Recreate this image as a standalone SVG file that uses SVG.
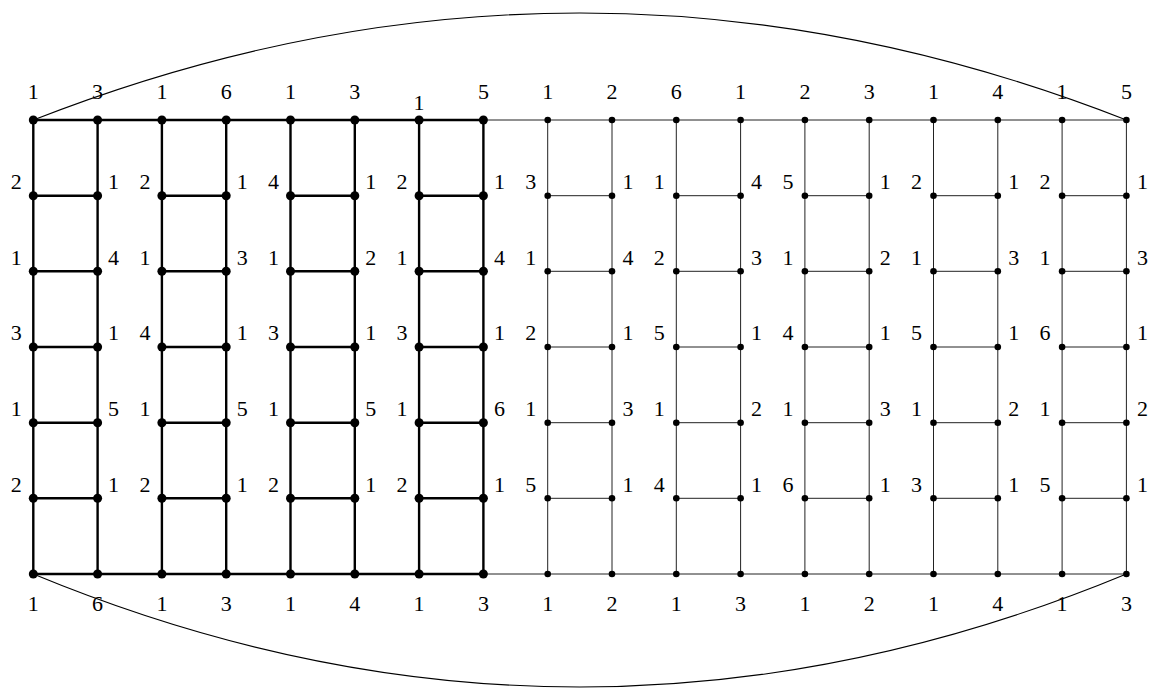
<svg xmlns="http://www.w3.org/2000/svg" width="1155" height="688" viewBox="0 0 1155 688">
<style>
.T{stroke:#000;stroke-width:2.4;fill:none;stroke-linecap:round}
.h{stroke:#222;stroke-width:1;fill:none}
.c{stroke:#000;stroke-width:1.1;fill:none}
.D{fill:#000}
.d{fill:#000}
.L text{font-family:'Liberation Serif','Times New Roman',serif;font-size:22px;fill:#000;text-anchor:middle}
</style>
<rect width="1155" height="688" fill="#fff"/>
<g id="connectors">
<path class="c" d="M33.3,120 Q579.85,-94 1126.4,120"/>
<path class="c" d="M33.3,574 Q579.85,800 1126.4,574"/>
<path class="T" d="M33.3,120H483.4M33.3,574H483.4M33.3,120V574M97.6,120V574M161.9,120V574M226.2,120V574M290.5,120V574M354.8,120V574M419.1,120V574M483.4,120V574"/>
<path class="T" d="M33.3,195.7H97.6M33.3,271.3H97.6M33.3,347H97.6M33.3,422.7H97.6M33.3,498.3H97.6M161.9,195.7H226.2M161.9,271.3H226.2M161.9,347H226.2M161.9,422.7H226.2M161.9,498.3H226.2M290.5,195.7H354.8M290.5,271.3H354.8M290.5,347H354.8M290.5,422.7H354.8M290.5,498.3H354.8M419.1,195.7H483.4M419.1,271.3H483.4M419.1,347H483.4M419.1,422.7H483.4M419.1,498.3H483.4"/>
<path class="h" d="M483.4,120H1126.4M483.4,574H1126.4M547.7,120V574M612,120V574M676.3,120V574M740.6,120V574M804.9,120V574M869.2,120V574M933.5,120V574M997.8,120V574M1062.1,120V574M1126.4,120V574"/>
<path class="h" d="M547.7,195.7H612M547.7,271.3H612M547.7,347H612M547.7,422.7H612M547.7,498.3H612M676.3,195.7H740.6M676.3,271.3H740.6M676.3,347H740.6M676.3,422.7H740.6M676.3,498.3H740.6M804.9,195.7H869.2M804.9,271.3H869.2M804.9,347H869.2M804.9,422.7H869.2M804.9,498.3H869.2M933.5,195.7H997.8M933.5,271.3H997.8M933.5,347H997.8M933.5,422.7H997.8M933.5,498.3H997.8M1062.1,195.7H1126.4M1062.1,271.3H1126.4M1062.1,347H1126.4M1062.1,422.7H1126.4M1062.1,498.3H1126.4"/>
</g>
<g class="L" font-family="Liberation Serif, serif" font-size="22" text-anchor="middle">
<!-- column 0 -->
<g id="v0-0"><circle class="D" cx="33.3" cy="120" r="4.5"/><text x="33.3" y="99">1</text></g>
<g id="v0-1"><circle class="D" cx="33.3" cy="195.7" r="4.5"/><text x="16.3" y="189">2</text></g>
<g id="v0-2"><circle class="D" cx="33.3" cy="271.3" r="4.5"/><text x="16.3" y="264.5">1</text></g>
<g id="v0-3"><circle class="D" cx="33.3" cy="347" r="4.5"/><text x="16.3" y="340">3</text></g>
<g id="v0-4"><circle class="D" cx="33.3" cy="422.7" r="4.5"/><text x="16.3" y="416">1</text></g>
<g id="v0-5"><circle class="D" cx="33.3" cy="498.3" r="4.5"/><text x="16.3" y="491.5">2</text></g>
<g id="v0-6"><circle class="D" cx="33.3" cy="574" r="4.5"/><text x="33.3" y="611">1</text></g>
<!-- column 1 -->
<g id="v1-0"><circle class="D" cx="97.6" cy="120" r="4.5"/><text x="97.6" y="99">3</text></g>
<g id="v1-1"><circle class="D" cx="97.6" cy="195.7" r="4.5"/><text x="113.6" y="189">1</text></g>
<g id="v1-2"><circle class="D" cx="97.6" cy="271.3" r="4.5"/><text x="113.6" y="264.5">4</text></g>
<g id="v1-3"><circle class="D" cx="97.6" cy="347" r="4.5"/><text x="113.6" y="340">1</text></g>
<g id="v1-4"><circle class="D" cx="97.6" cy="422.7" r="4.5"/><text x="113.6" y="416">5</text></g>
<g id="v1-5"><circle class="D" cx="97.6" cy="498.3" r="4.5"/><text x="113.6" y="491.5">1</text></g>
<g id="v1-6"><circle class="D" cx="97.6" cy="574" r="4.5"/><text x="97.6" y="611">6</text></g>
<!-- column 2 -->
<g id="v2-0"><circle class="D" cx="161.9" cy="120" r="4.5"/><text x="161.9" y="99">1</text></g>
<g id="v2-1"><circle class="D" cx="161.9" cy="195.7" r="4.5"/><text x="144.9" y="189">2</text></g>
<g id="v2-2"><circle class="D" cx="161.9" cy="271.3" r="4.5"/><text x="144.9" y="264.5">1</text></g>
<g id="v2-3"><circle class="D" cx="161.9" cy="347" r="4.5"/><text x="144.9" y="340">4</text></g>
<g id="v2-4"><circle class="D" cx="161.9" cy="422.7" r="4.5"/><text x="144.9" y="416">1</text></g>
<g id="v2-5"><circle class="D" cx="161.9" cy="498.3" r="4.5"/><text x="144.9" y="491.5">2</text></g>
<g id="v2-6"><circle class="D" cx="161.9" cy="574" r="4.5"/><text x="161.9" y="611">1</text></g>
<!-- column 3 -->
<g id="v3-0"><circle class="D" cx="226.2" cy="120" r="4.5"/><text x="226.2" y="99">6</text></g>
<g id="v3-1"><circle class="D" cx="226.2" cy="195.7" r="4.5"/><text x="242.2" y="189">1</text></g>
<g id="v3-2"><circle class="D" cx="226.2" cy="271.3" r="4.5"/><text x="242.2" y="264.5">3</text></g>
<g id="v3-3"><circle class="D" cx="226.2" cy="347" r="4.5"/><text x="242.2" y="340">1</text></g>
<g id="v3-4"><circle class="D" cx="226.2" cy="422.7" r="4.5"/><text x="242.2" y="416">5</text></g>
<g id="v3-5"><circle class="D" cx="226.2" cy="498.3" r="4.5"/><text x="242.2" y="491.5">1</text></g>
<g id="v3-6"><circle class="D" cx="226.2" cy="574" r="4.5"/><text x="226.2" y="611">3</text></g>
<!-- column 4 -->
<g id="v4-0"><circle class="D" cx="290.5" cy="120" r="4.5"/><text x="290.5" y="99">1</text></g>
<g id="v4-1"><circle class="D" cx="290.5" cy="195.7" r="4.5"/><text x="273.5" y="189">4</text></g>
<g id="v4-2"><circle class="D" cx="290.5" cy="271.3" r="4.5"/><text x="273.5" y="264.5">1</text></g>
<g id="v4-3"><circle class="D" cx="290.5" cy="347" r="4.5"/><text x="273.5" y="340">3</text></g>
<g id="v4-4"><circle class="D" cx="290.5" cy="422.7" r="4.5"/><text x="273.5" y="416">1</text></g>
<g id="v4-5"><circle class="D" cx="290.5" cy="498.3" r="4.5"/><text x="273.5" y="491.5">2</text></g>
<g id="v4-6"><circle class="D" cx="290.5" cy="574" r="4.5"/><text x="290.5" y="611">1</text></g>
<!-- column 5 -->
<g id="v5-0"><circle class="D" cx="354.8" cy="120" r="4.5"/><text x="354.8" y="99">3</text></g>
<g id="v5-1"><circle class="D" cx="354.8" cy="195.7" r="4.5"/><text x="370.8" y="189">1</text></g>
<g id="v5-2"><circle class="D" cx="354.8" cy="271.3" r="4.5"/><text x="370.8" y="264.5">2</text></g>
<g id="v5-3"><circle class="D" cx="354.8" cy="347" r="4.5"/><text x="370.8" y="340">1</text></g>
<g id="v5-4"><circle class="D" cx="354.8" cy="422.7" r="4.5"/><text x="370.8" y="416">5</text></g>
<g id="v5-5"><circle class="D" cx="354.8" cy="498.3" r="4.5"/><text x="370.8" y="491.5">1</text></g>
<g id="v5-6"><circle class="D" cx="354.8" cy="574" r="4.5"/><text x="354.8" y="611">4</text></g>
<!-- column 6 -->
<g id="v6-0"><circle class="D" cx="419.1" cy="120" r="4.5"/><text x="419.1" y="110">1</text></g>
<g id="v6-1"><circle class="D" cx="419.1" cy="195.7" r="4.5"/><text x="402.1" y="189">2</text></g>
<g id="v6-2"><circle class="D" cx="419.1" cy="271.3" r="4.5"/><text x="402.1" y="264.5">1</text></g>
<g id="v6-3"><circle class="D" cx="419.1" cy="347" r="4.5"/><text x="402.1" y="340">3</text></g>
<g id="v6-4"><circle class="D" cx="419.1" cy="422.7" r="4.5"/><text x="402.1" y="416">1</text></g>
<g id="v6-5"><circle class="D" cx="419.1" cy="498.3" r="4.5"/><text x="402.1" y="491.5">2</text></g>
<g id="v6-6"><circle class="D" cx="419.1" cy="574" r="4.5"/><text x="419.1" y="611">1</text></g>
<!-- column 7 -->
<g id="v7-0"><circle class="D" cx="483.4" cy="120" r="4.5"/><text x="483.4" y="99">5</text></g>
<g id="v7-1"><circle class="D" cx="483.4" cy="195.7" r="4.5"/><text x="499.4" y="189">1</text></g>
<g id="v7-2"><circle class="D" cx="483.4" cy="271.3" r="4.5"/><text x="499.4" y="264.5">4</text></g>
<g id="v7-3"><circle class="D" cx="483.4" cy="347" r="4.5"/><text x="499.4" y="340">1</text></g>
<g id="v7-4"><circle class="D" cx="483.4" cy="422.7" r="4.5"/><text x="499.4" y="416">6</text></g>
<g id="v7-5"><circle class="D" cx="483.4" cy="498.3" r="4.5"/><text x="499.4" y="491.5">1</text></g>
<g id="v7-6"><circle class="D" cx="483.4" cy="574" r="4.5"/><text x="483.4" y="611">3</text></g>
<!-- column 8 -->
<g id="v8-0"><circle class="d" cx="547.7" cy="120" r="3.3"/><text x="547.7" y="99">1</text></g>
<g id="v8-1"><circle class="d" cx="547.7" cy="195.7" r="3.3"/><text x="530.7" y="189">3</text></g>
<g id="v8-2"><circle class="d" cx="547.7" cy="271.3" r="3.3"/><text x="530.7" y="264.5">1</text></g>
<g id="v8-3"><circle class="d" cx="547.7" cy="347" r="3.3"/><text x="530.7" y="340">2</text></g>
<g id="v8-4"><circle class="d" cx="547.7" cy="422.7" r="3.3"/><text x="530.7" y="416">1</text></g>
<g id="v8-5"><circle class="d" cx="547.7" cy="498.3" r="3.3"/><text x="530.7" y="491.5">5</text></g>
<g id="v8-6"><circle class="d" cx="547.7" cy="574" r="3.3"/><text x="547.7" y="611">1</text></g>
<!-- column 9 -->
<g id="v9-0"><circle class="d" cx="612" cy="120" r="3.3"/><text x="612" y="99">2</text></g>
<g id="v9-1"><circle class="d" cx="612" cy="195.7" r="3.3"/><text x="628" y="189">1</text></g>
<g id="v9-2"><circle class="d" cx="612" cy="271.3" r="3.3"/><text x="628" y="264.5">4</text></g>
<g id="v9-3"><circle class="d" cx="612" cy="347" r="3.3"/><text x="628" y="340">1</text></g>
<g id="v9-4"><circle class="d" cx="612" cy="422.7" r="3.3"/><text x="628" y="416">3</text></g>
<g id="v9-5"><circle class="d" cx="612" cy="498.3" r="3.3"/><text x="628" y="491.5">1</text></g>
<g id="v9-6"><circle class="d" cx="612" cy="574" r="3.3"/><text x="612" y="611">2</text></g>
<!-- column 10 -->
<g id="v10-0"><circle class="d" cx="676.3" cy="120" r="3.3"/><text x="676.3" y="99">6</text></g>
<g id="v10-1"><circle class="d" cx="676.3" cy="195.7" r="3.3"/><text x="659.3" y="189">1</text></g>
<g id="v10-2"><circle class="d" cx="676.3" cy="271.3" r="3.3"/><text x="659.3" y="264.5">2</text></g>
<g id="v10-3"><circle class="d" cx="676.3" cy="347" r="3.3"/><text x="659.3" y="340">5</text></g>
<g id="v10-4"><circle class="d" cx="676.3" cy="422.7" r="3.3"/><text x="659.3" y="416">1</text></g>
<g id="v10-5"><circle class="d" cx="676.3" cy="498.3" r="3.3"/><text x="659.3" y="491.5">4</text></g>
<g id="v10-6"><circle class="d" cx="676.3" cy="574" r="3.3"/><text x="676.3" y="611">1</text></g>
<!-- column 11 -->
<g id="v11-0"><circle class="d" cx="740.6" cy="120" r="3.3"/><text x="740.6" y="99">1</text></g>
<g id="v11-1"><circle class="d" cx="740.6" cy="195.7" r="3.3"/><text x="756.6" y="189">4</text></g>
<g id="v11-2"><circle class="d" cx="740.6" cy="271.3" r="3.3"/><text x="756.6" y="264.5">3</text></g>
<g id="v11-3"><circle class="d" cx="740.6" cy="347" r="3.3"/><text x="756.6" y="340">1</text></g>
<g id="v11-4"><circle class="d" cx="740.6" cy="422.7" r="3.3"/><text x="756.6" y="416">2</text></g>
<g id="v11-5"><circle class="d" cx="740.6" cy="498.3" r="3.3"/><text x="756.6" y="491.5">1</text></g>
<g id="v11-6"><circle class="d" cx="740.6" cy="574" r="3.3"/><text x="740.6" y="611">3</text></g>
<!-- column 12 -->
<g id="v12-0"><circle class="d" cx="804.9" cy="120" r="3.3"/><text x="804.9" y="99">2</text></g>
<g id="v12-1"><circle class="d" cx="804.9" cy="195.7" r="3.3"/><text x="787.9" y="189">5</text></g>
<g id="v12-2"><circle class="d" cx="804.9" cy="271.3" r="3.3"/><text x="787.9" y="264.5">1</text></g>
<g id="v12-3"><circle class="d" cx="804.9" cy="347" r="3.3"/><text x="787.9" y="340">4</text></g>
<g id="v12-4"><circle class="d" cx="804.9" cy="422.7" r="3.3"/><text x="787.9" y="416">1</text></g>
<g id="v12-5"><circle class="d" cx="804.9" cy="498.3" r="3.3"/><text x="787.9" y="491.5">6</text></g>
<g id="v12-6"><circle class="d" cx="804.9" cy="574" r="3.3"/><text x="804.9" y="611">1</text></g>
<!-- column 13 -->
<g id="v13-0"><circle class="d" cx="869.2" cy="120" r="3.3"/><text x="869.2" y="99">3</text></g>
<g id="v13-1"><circle class="d" cx="869.2" cy="195.7" r="3.3"/><text x="885.2" y="189">1</text></g>
<g id="v13-2"><circle class="d" cx="869.2" cy="271.3" r="3.3"/><text x="885.2" y="264.5">2</text></g>
<g id="v13-3"><circle class="d" cx="869.2" cy="347" r="3.3"/><text x="885.2" y="340">1</text></g>
<g id="v13-4"><circle class="d" cx="869.2" cy="422.7" r="3.3"/><text x="885.2" y="416">3</text></g>
<g id="v13-5"><circle class="d" cx="869.2" cy="498.3" r="3.3"/><text x="885.2" y="491.5">1</text></g>
<g id="v13-6"><circle class="d" cx="869.2" cy="574" r="3.3"/><text x="869.2" y="611">2</text></g>
<!-- column 14 -->
<g id="v14-0"><circle class="d" cx="933.5" cy="120" r="3.3"/><text x="933.5" y="99">1</text></g>
<g id="v14-1"><circle class="d" cx="933.5" cy="195.7" r="3.3"/><text x="916.5" y="189">2</text></g>
<g id="v14-2"><circle class="d" cx="933.5" cy="271.3" r="3.3"/><text x="916.5" y="264.5">1</text></g>
<g id="v14-3"><circle class="d" cx="933.5" cy="347" r="3.3"/><text x="916.5" y="340">5</text></g>
<g id="v14-4"><circle class="d" cx="933.5" cy="422.7" r="3.3"/><text x="916.5" y="416">1</text></g>
<g id="v14-5"><circle class="d" cx="933.5" cy="498.3" r="3.3"/><text x="916.5" y="491.5">3</text></g>
<g id="v14-6"><circle class="d" cx="933.5" cy="574" r="3.3"/><text x="933.5" y="611">1</text></g>
<!-- column 15 -->
<g id="v15-0"><circle class="d" cx="997.8" cy="120" r="3.3"/><text x="997.8" y="99">4</text></g>
<g id="v15-1"><circle class="d" cx="997.8" cy="195.7" r="3.3"/><text x="1013.8" y="189">1</text></g>
<g id="v15-2"><circle class="d" cx="997.8" cy="271.3" r="3.3"/><text x="1013.8" y="264.5">3</text></g>
<g id="v15-3"><circle class="d" cx="997.8" cy="347" r="3.3"/><text x="1013.8" y="340">1</text></g>
<g id="v15-4"><circle class="d" cx="997.8" cy="422.7" r="3.3"/><text x="1013.8" y="416">2</text></g>
<g id="v15-5"><circle class="d" cx="997.8" cy="498.3" r="3.3"/><text x="1013.8" y="491.5">1</text></g>
<g id="v15-6"><circle class="d" cx="997.8" cy="574" r="3.3"/><text x="997.8" y="611">4</text></g>
<!-- column 16 -->
<g id="v16-0"><circle class="d" cx="1062.1" cy="120" r="3.3"/><text x="1062.1" y="99">1</text></g>
<g id="v16-1"><circle class="d" cx="1062.1" cy="195.7" r="3.3"/><text x="1045.1" y="189">2</text></g>
<g id="v16-2"><circle class="d" cx="1062.1" cy="271.3" r="3.3"/><text x="1045.1" y="264.5">1</text></g>
<g id="v16-3"><circle class="d" cx="1062.1" cy="347" r="3.3"/><text x="1045.1" y="340">6</text></g>
<g id="v16-4"><circle class="d" cx="1062.1" cy="422.7" r="3.3"/><text x="1045.1" y="416">1</text></g>
<g id="v16-5"><circle class="d" cx="1062.1" cy="498.3" r="3.3"/><text x="1045.1" y="491.5">5</text></g>
<g id="v16-6"><circle class="d" cx="1062.1" cy="574" r="3.3"/><text x="1062.1" y="611">1</text></g>
<!-- column 17 -->
<g id="v17-0"><circle class="d" cx="1126.4" cy="120" r="3.3"/><text x="1126.4" y="99">5</text></g>
<g id="v17-1"><circle class="d" cx="1126.4" cy="195.7" r="3.3"/><text x="1142.4" y="189">1</text></g>
<g id="v17-2"><circle class="d" cx="1126.4" cy="271.3" r="3.3"/><text x="1142.4" y="264.5">3</text></g>
<g id="v17-3"><circle class="d" cx="1126.4" cy="347" r="3.3"/><text x="1142.4" y="340">1</text></g>
<g id="v17-4"><circle class="d" cx="1126.4" cy="422.7" r="3.3"/><text x="1142.4" y="416">2</text></g>
<g id="v17-5"><circle class="d" cx="1126.4" cy="498.3" r="3.3"/><text x="1142.4" y="491.5">1</text></g>
<g id="v17-6"><circle class="d" cx="1126.4" cy="574" r="3.3"/><text x="1126.4" y="611">3</text></g>
</g>
</svg>
